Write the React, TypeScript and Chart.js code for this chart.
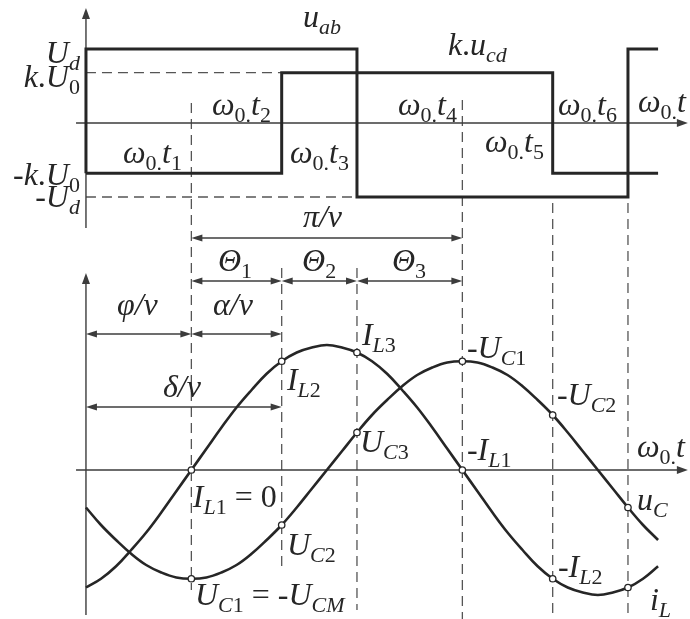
import { useEffect, useRef } from 'react';
import { Chart, registerables } from 'chart.js';

Chart.register(...registerables);

// ---- axis ranges (units: horizontal = electrical angle, vertical = per-unit) ----
const X_RANGE = [-57.1, 401.2];
const TOP_RANGE = [-6.703, 1.662];
const BOT_RANGE = [-1.192, 3.76];

// ---- top panel: square waves ----
const U_D = 1;
const K_U0 = 0.68;
const uabX = [0, 0, 180, 180, 360, 360, 380];
const uabY = [-0.68, 1, 1, -1, -1, 1, 1];
const kucdX = [0, 130, 130, 310, 310, 380];
const kucdY = [-0.68, -0.68, 0.68, 0.68, -0.68, -0.68];

// ---- bottom panel: inductor current and capacitor voltage ----
const phaseX = [0, 10, 20, 30, 40, 50, 60, 70, 80, 90, 100, 110, 120, 130, 140, 150, 160, 170, 180, 190,
  200, 210, 220, 230, 240, 250, 260, 270, 280, 290, 300, 310, 320, 330, 340, 350, 360, 370, 380];
const iLValues = [-0.94, -0.87, -0.77, -0.64, -0.5, -0.34, -0.17, 0, 0.17, 0.34, 0.5, 0.64, 0.77, 0.87, 0.94,
  0.98, 1.0, 0.98, 0.94, 0.87, 0.77, 0.64, 0.5, 0.34, 0.17, 0, -0.17, -0.34, -0.5, -0.64, -0.77, -0.87, -0.94,
  -0.98, -1.0, -0.98, -0.94, -0.87, -0.77];
const uCValues = [-0.3, -0.44, -0.56, -0.67, -0.76, -0.82, -0.86, -0.87, -0.86, -0.82, -0.76, -0.67, -0.56,
  -0.44, -0.3, -0.15, 0, 0.15, 0.3, 0.44, 0.56, 0.67, 0.76, 0.82, 0.86, 0.87, 0.86, 0.82, 0.76, 0.67, 0.56,
  0.44, 0.3, 0.15, 0, -0.15, -0.3, -0.44, -0.56];
const markedX = [70, 130, 180, 250, 310, 360];

// ---- vertical dashed guides: x, start (panel, value), end (bottom panel value) ----
const guideX = [70, 130, 180, 250, 310, 360];
const guideFrom: [string, number][] = [['yT', 0.27], ['yB', 1.616], ['yB', 1.616], ['yT', 0.31], ['yT', -1.08], ['yT', -1.08]];
const guideTo = [-0.96, -0.8, -1.12, -1.25, -1.25, -1.25];

// ---- dimension spans ----
const spanLabels = ['π/ν', 'Θ_{1}', 'Θ_{2}', 'Θ_{3}', 'φ/ν', 'α/ν', 'δ/ν'];
const spanFrom = [70, 70, 130, 180, 0, 70, 0];
const spanTo = [250, 130, 180, 250, 70, 130, 130];
const spanY = [1.856, 1.512, 1.512, 1.512, 1.088, 1.088, 0.504];
const spanLabelX = [144.1, 87.7, 143.5, 203.2, 20.6, 84.4, 51.1];
const spanLabelY = [1.944, 1.592, 1.592, 1.592, 1.24, 1.24, 0.584];

// ---- text labels ----
const topLabels = ['U_{d}', 'k.U_{0}', '-k.U_{0}', '-U_{d}', 'u_{ab}', 'k.u_{cd}', 'ω_{0.}t_{1}', 'ω_{0.}t_{2}',
  'ω_{0.}t_{3}', 'ω_{0.}t_{4}', 'ω_{0.}t_{5}', 'ω_{0.}t_{6}', 'ω_{0.}t'];
const topLabelX = [-4, -4, -4, -4, 144.1, 240.4, 24.6, 83.7, 135.5, 207.2, 265, 313.5, 366.6];
const topLabelY = [0.81, 0.486, -0.838, -1.135, 1.297, 0.919, -0.54, 0.108, -0.54, 0.108, -0.39, 0.108, 0.149];
const topLabelAlign = ['right', 'right', 'right', 'right', 'left', 'left', 'left', 'left', 'left', 'left', 'left', 'left', 'left'];

const botLabels = ['I_{L2}', 'I_{L3}', '-U_{C1}', '-U_{C2}', 'ω_{0.}t', 'U_{C3}', '-I_{L1}', 'u_{C}', '-I_{L2}',
  'i_{L}', 'I_{L1} = 0', 'U_{C2}', 'U_{C1} = -U_{CM}'];
const botLabelX = [133.5, 183.3, 253, 312.8, 366, 182, 253, 366, 313.5, 374.6, 71, 133.5, 72.4];
const botLabelY = [0.64, 1.0, 0.896, 0.52, 0.104, 0.144, 0.08, -0.32, -0.856, -1.12, -0.296, -0.68, -1.08];

const INK = '#262626';
const AXIS = '#3c3c3c';
const DASH = '#555555';
const FONT = '"Liberation Serif", "Times New Roman", serif';
const MAIN = 32;
const SUB = 22;

function parseRich(s: string) {
  const out: { ch: string; sub: boolean }[] = [];
  let i = 0;
  while (i < s.length) {
    if (s[i] === '_' && s[i + 1] === '{') {
      const end = s.indexOf('}', i);
      for (const ch of s.slice(i + 2, end)) out.push({ ch, sub: true });
      i = end + 1;
    } else {
      out.push({ ch: s[i], sub: false });
      i++;
    }
  }
  return out;
}

function fontFor(ch: string, sub: boolean) {
  const upright = /[0-9=\-. ]/.test(ch);
  return `${upright ? '' : 'italic '}${sub ? SUB : MAIN}px ${FONT}`;
}

function drawRich(ctx: CanvasRenderingContext2D, s: string, x: number, y: number, align: string) {
  const parts = parseRich(s);
  let w = 0;
  const widths = parts.map((p) => {
    ctx.font = fontFor(p.ch, p.sub);
    const m = ctx.measureText(p.ch).width;
    w += m;
    return m;
  });
  let cx = align === 'right' ? x - w : x;
  ctx.textBaseline = 'alphabetic';
  ctx.textAlign = 'left';
  parts.forEach((p, k) => {
    ctx.font = fontFor(p.ch, p.sub);
    ctx.fillText(p.ch, cx, y + (p.sub ? 7 : 0));
    cx += widths[k];
  });
}

function arrowHead(ctx: CanvasRenderingContext2D, x: number, y: number, dx: number, dy: number, len = 11, half = 4) {
  const nx = -dy, ny = dx;
  ctx.beginPath();
  ctx.moveTo(x, y);
  ctx.lineTo(x - dx * len + nx * half, y - dy * len + ny * half);
  ctx.lineTo(x - dx * len - nx * half, y - dy * len - ny * half);
  ctx.closePath();
  ctx.fill();
}

const overlay = {
  id: 'overlay',
  beforeDatasetsDraw(chart: any) {
    const { ctx, scales } = chart;
    const X = (v: number) => scales.x.getPixelForValue(v);
    const T = (v: number) => scales.yT.getPixelForValue(v);
    const B = (v: number) => scales.yB.getPixelForValue(v);
    ctx.save();
    // dashed guides
    ctx.strokeStyle = DASH;
    ctx.lineWidth = 1.3;
    ctx.setLineDash([10, 6]);
    guideX.forEach((gx, i) => {
      const [ax, v] = guideFrom[i];
      const y0 = ax === 'yT' ? T(v) : B(v);
      ctx.beginPath();
      ctx.moveTo(X(gx), y0);
      ctx.lineTo(X(gx), B(guideTo[i]));
      ctx.stroke();
    });
    // horizontal dashed levels
    ctx.beginPath();
    ctx.moveTo(X(0), T(K_U0));
    ctx.lineTo(X(130), T(K_U0));
    ctx.moveTo(X(0), T(-U_D));
    ctx.lineTo(X(180), T(-U_D));
    ctx.stroke();
    ctx.setLineDash([]);

    // axes
    ctx.strokeStyle = AXIS;
    ctx.fillStyle = AXIS;
    ctx.lineWidth = 1.4;
    const xEnd = 399.8;
    // top panel
    ctx.beginPath();
    ctx.moveTo(X(-6.6), T(0));
    ctx.lineTo(X(xEnd) - 8, T(0));
    ctx.moveTo(X(0), T(-1.42));
    ctx.lineTo(X(0), T(1.554) + 8);
    ctx.stroke();
    arrowHead(ctx, X(xEnd), T(0), 1, 0);
    arrowHead(ctx, X(0), T(1.554), 0, -1);
    // bottom panel
    ctx.beginPath();
    ctx.moveTo(X(-6.6), B(0));
    ctx.lineTo(X(xEnd) - 8, B(0));
    ctx.moveTo(X(0), B(-1.16));
    ctx.lineTo(X(0), B(1.576) + 8);
    ctx.stroke();
    arrowHead(ctx, X(xEnd), B(0), 1, 0);
    arrowHead(ctx, X(0), B(1.576), 0, -1);

    // dimension spans
    ctx.lineWidth = 1.3;
    spanFrom.forEach((a, i) => {
      const y = B(spanY[i]);
      const x0 = X(a), x1 = X(spanTo[i]);
      ctx.beginPath();
      ctx.moveTo(x0 + 6, y);
      ctx.lineTo(x1 - 6, y);
      ctx.stroke();
      arrowHead(ctx, x0, y, -1, 0, 11, 3.5);
      arrowHead(ctx, x1, y, 1, 0, 11, 3.5);
    });
    ctx.restore();
  },
  afterDatasetsDraw(chart: any) {
    const { ctx, scales } = chart;
    const X = (v: number) => scales.x.getPixelForValue(v);
    const T = (v: number) => scales.yT.getPixelForValue(v);
    const B = (v: number) => scales.yB.getPixelForValue(v);
    ctx.save();
    ctx.fillStyle = INK;
    topLabels.forEach((s, i) => drawRich(ctx, s, X(topLabelX[i]), T(topLabelY[i]), topLabelAlign[i]));
    spanLabels.forEach((s, i) => drawRich(ctx, s, X(spanLabelX[i]), B(spanLabelY[i]), 'left'));
    botLabels.forEach((s, i) => drawRich(ctx, s, X(botLabelX[i]), B(botLabelY[i]), 'left'));
    ctx.restore();
  },
};

export default function App() {
  const ref = useRef<HTMLCanvasElement>(null);
  useEffect(() => {
    if (!ref.current) return;
    const pts = (xs: number[], ys: number[]) => xs.map((x, i) => ({ x, y: ys[i] }));
    const markRadius = (c: any) => (markedX.includes(phaseX[c.dataIndex]) ? 3.2 : 0);
    const chart = new Chart(ref.current, {
      type: 'line',
      data: {
        datasets: [
          { label: 'u_ab', data: pts(uabX, uabY), yAxisID: 'yT', borderColor: INK, borderWidth: 3, pointRadius: 0, tension: 0 },
          { label: 'k.u_cd', data: pts(kucdX, kucdY), yAxisID: 'yT', borderColor: INK, borderWidth: 3, pointRadius: 0, tension: 0 },
          {
            label: 'i_L', data: pts(phaseX, iLValues), yAxisID: 'yB', borderColor: INK, borderWidth: 2.6,
            tension: 0.4, pointRadius: markRadius, pointBackgroundColor: '#ffffff', pointBorderColor: INK, pointBorderWidth: 1.3,
          },
          {
            label: 'u_C', data: pts(phaseX, uCValues), yAxisID: 'yB', borderColor: INK, borderWidth: 2.6,
            tension: 0.4, pointRadius: markRadius, pointBackgroundColor: '#ffffff', pointBorderColor: INK, pointBorderWidth: 1.3,
          },
        ],
      },
      options: {
        animation: false,
        responsive: false,
        maintainAspectRatio: false,
        layout: { padding: 0 },
        plugins: { legend: { display: false }, tooltip: { enabled: false } },
        scales: {
          x: { type: 'linear', display: false, min: X_RANGE[0], max: X_RANGE[1] },
          yT: { type: 'linear', display: false, min: TOP_RANGE[0], max: TOP_RANGE[1] },
          yB: { type: 'linear', display: false, min: BOT_RANGE[0], max: BOT_RANGE[1] },
        },
      },
      plugins: [overlay],
    });
    return () => chart.destroy();
  }, []);
  return (
    <div style={{ position: 'absolute', left: 0, top: 0, width: 690, height: 619, background: '#ffffff' }}>
      <canvas ref={ref} width={690} height={619} style={{ width: 690, height: 619, display: 'block' }} />
    </div>
  );
}
